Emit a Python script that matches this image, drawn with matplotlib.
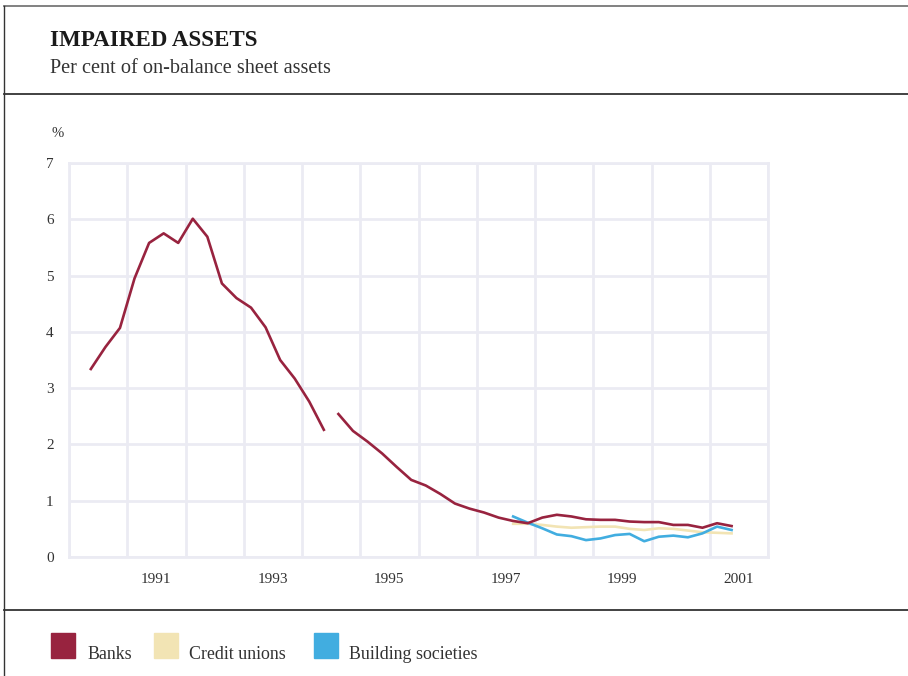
# coding: utf-8
import numpy as np
import matplotlib
matplotlib.use('Agg')
import matplotlib.pyplot as plt
from matplotlib.lines import Line2D
from matplotlib.patches import Rectangle

# data (quarterly, per cent of on-balance sheet assets)
banks_old_start = 1990.375
banks_old = [3.34, 3.73, 4.07, 4.95, 5.58, 5.75, 5.58, 6.01, 5.69, 4.86, 4.60,
             4.43, 4.08, 3.50, 3.17, 2.76, 2.26]
banks_new_start = 1994.625
banks_new = [2.54, 2.24, 2.05, 1.84, 1.60, 1.37, 1.27, 1.12, 0.95, 0.86, 0.79,
             0.70, 0.64, 0.60, 0.70, 0.75, 0.72, 0.67, 0.66, 0.66, 0.63, 0.62,
             0.62, 0.57, 0.57, 0.52, 0.60, 0.55]
other_start = 1997.625
credit_unions = [0.59, 0.59, 0.57, 0.54, 0.52, 0.53, 0.54, 0.54, 0.50, 0.48,
                 0.51, 0.50, 0.47, 0.44, 0.43, 0.42]
building_societies = [0.72, 0.61, 0.51, 0.40, 0.37, 0.30, 0.33, 0.39, 0.41,
                      0.28, 0.36, 0.38, 0.35, 0.42, 0.54, 0.48]
year_labels = ['1991', '1993', '1995', '1997', '1999', '2001']
y_ticks = [0, 1, 2, 3, 4, 5, 6, 7]

c_banks = '#98233f'
c_cu = '#f2e4b4'
c_bs = '#41ade0'
grid_c = '#ebebf3'
txt_c = '#333333'

plt.rcParams['font.family'] = ['Liberation Serif', 'DejaVu Serif']

def quarters(start, vals):
    return start + 0.25 * np.arange(len(vals))

fig = plt.figure(figsize=(9.08, 6.76), dpi=100)
ax = fig.add_axes([69/908, 1-557/676, (768-69)/908, (557-163)/676])

ax.plot(quarters(other_start, credit_unions), credit_unions, color=c_cu, lw=1.9, zorder=3)
ax.plot(quarters(other_start, building_societies), building_societies, color=c_bs, lw=1.9, zorder=4)
ax.plot(quarters(banks_old_start, banks_old), banks_old, color=c_banks, lw=1.9, zorder=5)
ax.plot(quarters(banks_new_start, banks_new), banks_new, color=c_banks, lw=1.9, zorder=5)

ax.set_xlim(1990, 2002)
ax.set_ylim(0, 7)
ax.set_xticks(np.arange(1990, 2003))
ax.set_xticklabels([])
ax.set_yticks(y_ticks)
ax.set_yticklabels([str(v) for v in y_ticks], fontsize=11, color=txt_c)
ax.grid(True, color=grid_c, lw=2.0)
ax.tick_params(axis='both', length=0, pad=11)
for s in ax.spines.values():
    s.set_color(grid_c)
    s.set_linewidth(2.0)
# year labels centred inside odd years
for lab in year_labels:
    ax.text(int(lab) + 0.5, -0.28, lab, ha='center', va='top', fontsize=11, color=txt_c)

# frame and header
fig.add_artist(Line2D([4/908, 1], [1-5.5/676, 1-5.5/676], color='#777777', lw=1.3))
fig.add_artist(Line2D([4/908, 4/908], [0, 1-5.5/676], color='#333333', lw=1.0))
fig.add_artist(Line2D([4/908, 1], [1-94/676, 1-94/676], color='#333333', lw=1.3))
fig.add_artist(Line2D([4/908, 1], [1-610/676, 1-610/676], color='#333333', lw=1.3))

fig.text(50/908, 1-46/676, 'IMPAIRED ASSETS', fontsize=16.6, fontweight='bold', color='#1a1a1a')
fig.text(50/908, 1-73/676, 'Per cent of on-balance sheet assets', fontsize=14.6, color=txt_c)
fig.text(52/908, 1-137/676, '%', fontsize=10.5, color=txt_c)

# legend
items = [('Banks', c_banks, 51, 87), ('Credit unions', c_cu, 154, 189),
         ('Building societies', c_bs, 314, 349)]
for name, col, sx, tx in items:
    fig.add_artist(Rectangle((sx/908, 1-658/676), 24/908, 25/676, color=col,
                             transform=fig.transFigure))
    fig.text(tx/908, 1-659/676, name, fontsize=12.9, color=txt_c)

plt.savefig('out.png', dpi=100)
plt.close()
